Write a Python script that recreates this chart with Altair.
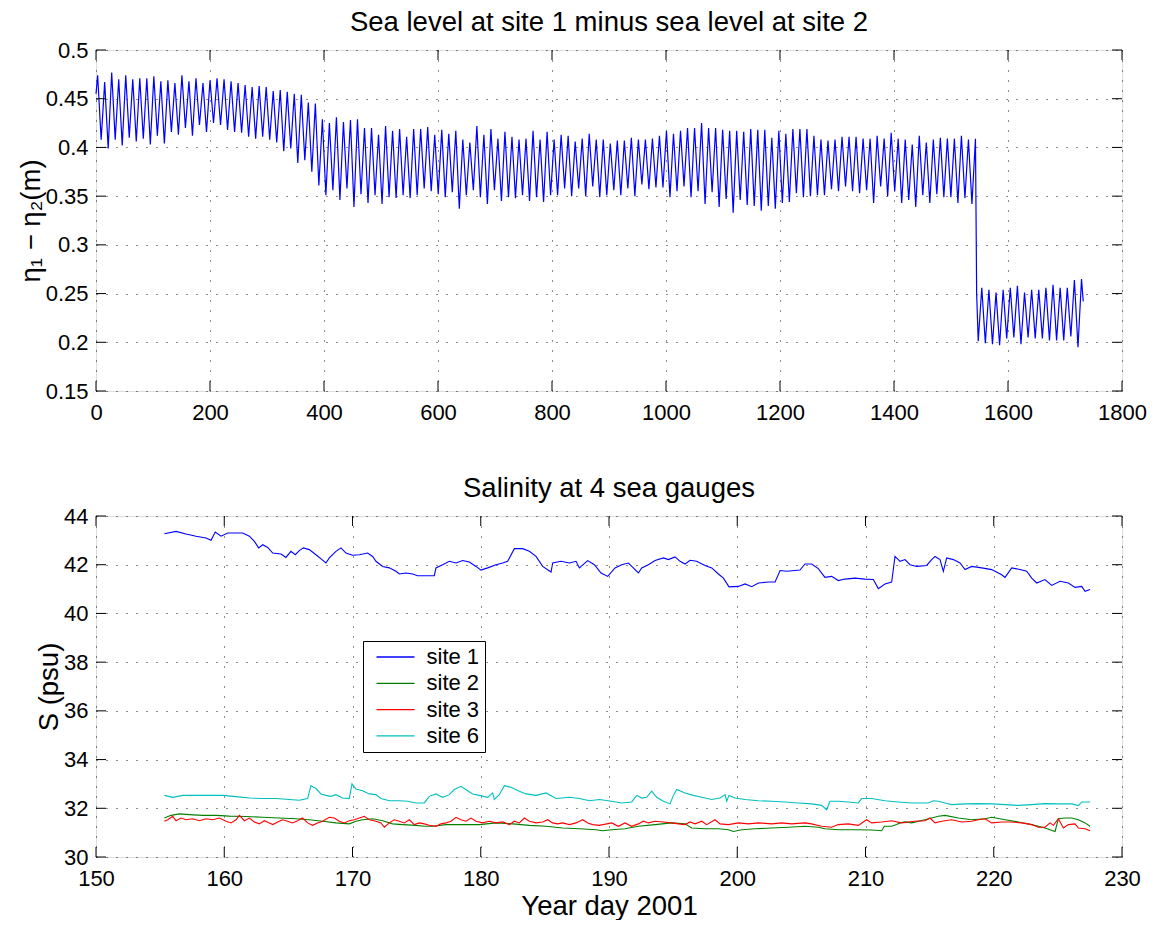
import altair as alt
import pandas as pd

FONT = "Liberation Sans"

# ---------------- top panel: tidal sea-level difference (m) ----------------
# successive high-water and low-water values, cycle by cycle
peaks_a = [0.474, 0.467, 0.477, 0.470, 0.474, 0.470, 0.471, 0.471, 0.473, 0.468,
           0.469, 0.466, 0.474, 0.468, 0.471, 0.466, 0.469, 0.471, 0.470, 0.468,
           0.466, 0.464, 0.462, 0.463, 0.462, 0.458, 0.459, 0.457, 0.455, 0.454,
           0.446, 0.445, 0.429, 0.425, 0.431, 0.426, 0.428]
troughs_a = [0.408, 0.399, 0.408, 0.402, 0.410, 0.406, 0.409, 0.403, 0.412, 0.404,
             0.416, 0.413, 0.420, 0.412, 0.423, 0.416, 0.425, 0.423, 0.418, 0.416,
             0.415, 0.411, 0.409, 0.411, 0.408, 0.405, 0.396, 0.399, 0.384, 0.387,
             0.375, 0.361, 0.351, 0.356, 0.346, 0.358, 0.339]
peaks_b = [0.429, 0.420, 0.420, 0.413, 0.422, 0.417, 0.419, 0.411, 0.419, 0.419,
           0.421, 0.413, 0.418, 0.414, 0.417, 0.408, 0.405, 0.422, 0.413, 0.419,
           0.409, 0.416, 0.411, 0.408, 0.409, 0.417, 0.408, 0.416, 0.408, 0.413,
           0.412, 0.406, 0.409, 0.414, 0.408, 0.408]
troughs_b = [0.352, 0.343, 0.351, 0.342, 0.349, 0.348, 0.351, 0.348, 0.351, 0.358,
             0.355, 0.352, 0.349, 0.354, 0.337, 0.351, 0.356, 0.349, 0.342, 0.356,
             0.345, 0.349, 0.348, 0.351, 0.345, 0.349, 0.344, 0.351, 0.351, 0.358,
             0.350, 0.358, 0.350, 0.360, 0.349, 0.351]
peaks_c = [0.404, 0.407, 0.407, 0.410, 0.408, 0.408, 0.409, 0.412, 0.417, 0.414,
           0.417, 0.420, 0.420, 0.425, 0.420, 0.420, 0.418, 0.417, 0.417, 0.416,
           0.419, 0.418, 0.418, 0.410, 0.417, 0.414, 0.419, 0.419, 0.419, 0.412,
           0.408, 0.407, 0.408, 0.411, 0.411, 0.411, 0.409]
troughs_c = [0.356, 0.351, 0.358, 0.350, 0.362, 0.357, 0.359, 0.359, 0.349, 0.355,
             0.360, 0.349, 0.355, 0.342, 0.354, 0.339, 0.347, 0.333, 0.346, 0.341,
             0.340, 0.335, 0.340, 0.337, 0.343, 0.344, 0.353, 0.349, 0.350, 0.351,
             0.351, 0.357, 0.355, 0.360, 0.355, 0.353, 0.356]
peaks_d = [0.409, 0.412, 0.409, 0.415, 0.409, 0.408, 0.403, 0.412, 0.405, 0.408,
           0.410, 0.409, 0.409, 0.412, 0.408, 0.409]
troughs_d = [0.343, 0.360, 0.350, 0.355, 0.343, 0.346, 0.339, 0.351, 0.343, 0.352,
             0.349, 0.349, 0.343, 0.348, 0.342]
# after the step down
troughs_e = [0.201, 0.199, 0.198, 0.197, 0.204, 0.205, 0.198, 0.205, 0.204, 0.204,
             0.202, 0.202, 0.202, 0.206, 0.195]
peaks_e = [0.256, 0.254, 0.251, 0.254, 0.256, 0.258, 0.251, 0.254, 0.254, 0.256,
           0.259, 0.256, 0.256, 0.264, 0.265]

start_hour, start_value = 0.0, 0.455
first_peak_hour, cycle_hours = 2.9, 12.32
step_hour, step_value = 1545.0, 0.250
post_first_peak_hour, post_cycle_hours = 1554.0, 12.5
end_hour, end_value = 1732.0, 0.242

top_x_ticks = [0, 200, 400, 600, 800, 1000, 1200, 1400, 1600, 1800]
top_y_ticks = [0.15, 0.2, 0.25, 0.3, 0.35, 0.4, 0.45, 0.5]

# ---------------- bottom panel: salinity (psu) ----------------
site1_day = [155.33, 156.24, 157.02, 157.80, 158.58, 158.97, 159.30, 159.75, 160.27, 160.92,
             161.44, 161.96, 162.35, 162.68, 163.00, 163.39, 163.78, 164.43, 164.81, 165.20,
             165.54, 165.85, 166.17, 166.63, 167.15, 167.62, 167.93, 168.19, 168.71, 169.10,
             169.49, 170.01, 170.53, 171.18, 171.57, 171.83, 172.35, 172.87, 173.39, 173.65,
             174.17, 174.69, 175.08, 175.73, 176.38, 176.51, 177.03, 177.55, 178.07, 178.59,
             179.11, 179.63, 180.02, 180.54, 181.19, 181.71, 182.10, 182.62, 183.27, 183.79,
             184.31, 184.83, 185.48, 185.61, 186.26, 186.91, 187.43, 187.69, 188.34, 188.86,
             189.38, 189.90,
             190.47, 190.99, 191.51, 191.90, 192.29, 192.55, 193.07, 193.59, 194.24, 194.63,
             195.15, 195.54, 195.93, 196.32, 196.84, 197.49, 198.01, 198.53, 198.92, 199.36,
             200.09, 200.61, 201.13, 201.65, 202.43, 202.95, 203.34, 203.86, 204.50, 204.89,
             205.28, 205.80, 206.32, 206.84, 207.36, 207.88, 208.40, 209.18, 209.96, 210.61,
             211.00, 211.52, 212.04, 212.30, 212.69, 213.08, 213.47, 213.99, 214.77, 215.16,
             215.42, 215.81, 216.07, 216.33, 216.85, 217.37, 217.76, 218.28, 219.06, 219.84,
             220.62, 220.88, 221.40, 222.05, 222.57, 222.96, 223.35, 223.99, 224.52, 225.17,
             225.82, 226.34, 226.86, 227.12, 227.51]
site1_s = [43.27, 43.37, 43.26, 43.17, 43.10, 43.00, 43.34, 43.17, 43.30, 43.30,
           43.30, 43.17, 42.96, 42.69, 42.82, 42.71, 42.48, 42.44, 42.30, 42.55,
           42.41, 42.58, 42.69, 42.62, 42.41, 42.21, 42.07, 42.28, 42.55, 42.69,
           42.48, 42.39, 42.41, 42.48, 42.34, 42.14, 41.93, 41.87, 41.73, 41.62,
           41.66, 41.62, 41.55, 41.55, 41.55, 41.87, 42.00, 42.14, 42.07, 42.17,
           42.11, 41.93, 41.78, 41.87, 42.00, 42.07, 42.14, 42.66, 42.66, 42.55,
           42.34, 41.93, 41.70, 42.07, 42.14, 42.07, 42.14, 41.87, 42.17, 42.00,
           41.66, 41.52,
           41.87, 42.00, 42.07, 41.87, 41.66, 41.87, 42.00, 42.17, 42.28, 42.21,
           42.32, 42.14, 42.03, 42.18, 42.14, 41.97, 41.87, 41.62, 41.45, 41.09,
           41.11, 41.21, 41.10, 41.25, 41.29, 41.29, 41.76, 41.73, 41.76, 41.78,
           42.03, 42.03, 41.84, 41.48, 41.52, 41.35, 41.41, 41.45, 41.41, 41.39,
           41.02, 41.21, 41.29, 42.34, 42.14, 42.21, 42.00, 41.93, 41.97, 42.21,
           42.34, 42.21, 41.73, 42.28, 42.21, 42.07, 41.80, 41.93, 41.87, 41.80,
           41.59, 41.48, 41.87, 41.80, 41.73, 41.45, 41.25, 41.39, 41.15, 41.32,
           41.25, 41.07, 41.11, 40.91, 40.98]

site2_day = [155.33, 155.85, 156.50, 157.28, 158.32, 159.36, 160.40, 161.70, 163.00, 164.30,
             165.59, 166.63, 167.67, 168.71, 169.75, 170.27, 170.79, 171.57, 172.35, 173.13,
             173.91, 174.95, 175.60, 176.25, 177.29, 178.59, 179.89, 181.19, 182.49, 183.79,
             185.09, 186.39, 187.69, 188.99, 189.51,
             190.21, 191.25, 192.29, 193.59, 194.89, 195.93, 196.45, 197.49, 198.53, 199.31,
             199.70, 200.35, 201.39, 202.69, 203.98, 205.28, 206.32, 206.84, 207.88, 209.18,
             210.48, 211.26, 211.47, 212.04, 212.43, 212.69, 213.08, 213.60, 214.64, 215.16,
             215.68, 216.20, 217.24, 218.28, 219.32, 219.84, 220.88, 221.92, 222.96, 223.99,
             224.78, 225.04, 225.56, 226.08, 226.60, 227.12, 227.51]
site2_s = [31.60, 31.71, 31.77, 31.74, 31.71, 31.71, 31.68, 31.66, 31.63, 31.60,
           31.57, 31.53, 31.47, 31.40, 31.36, 31.47, 31.53, 31.57, 31.49, 31.36,
           31.33, 31.30, 31.26, 31.26, 31.33, 31.33, 31.33, 31.40, 31.36, 31.30,
           31.26, 31.19, 31.16, 31.12, 31.08,
           31.12, 31.16, 31.26, 31.33, 31.40, 31.36, 31.19, 31.16, 31.16, 31.12,
           31.05, 31.12, 31.16, 31.19, 31.22, 31.26, 31.22, 31.16, 31.12, 31.12,
           31.11, 31.08, 31.26, 31.26, 31.33, 31.40, 31.44, 31.40, 31.53, 31.60,
           31.67, 31.71, 31.60, 31.53, 31.57, 31.63, 31.53, 31.44, 31.33, 31.19,
           31.05, 31.57, 31.60, 31.60, 31.53, 31.40, 31.26]

site3_day = [155.33, 155.59, 155.98, 156.24, 156.63, 157.02, 157.54, 158.06, 158.58, 159.10,
             159.62, 160.14, 160.53, 160.92, 161.18, 161.57, 161.96, 162.35, 162.74, 163.13,
             163.52, 163.78, 164.17, 164.55, 164.94, 165.33, 165.72, 166.11, 166.50, 166.89,
             167.28, 167.67, 168.19, 168.58, 168.97, 169.36, 169.75, 170.14, 170.53, 170.92,
             171.31, 171.83, 172.22, 172.48, 172.87, 173.26, 173.65, 174.04, 174.43, 174.82,
             175.21, 175.60, 175.99, 176.51, 176.90, 177.29, 177.68, 178.07, 178.46, 178.85,
             179.24, 179.63, 180.15, 180.67, 181.19, 181.71, 182.23, 182.62, 183.01, 183.40,
             183.79, 184.31, 184.83, 185.22, 185.61, 186.00, 186.39, 186.91, 187.43, 187.95,
             188.34, 188.73, 189.25,
             190.21, 190.73, 191.25, 191.77, 192.29, 192.68, 193.07, 193.59, 194.24, 194.89,
             195.41, 195.93, 196.32, 196.71, 197.23, 197.62, 198.27, 198.66, 199.31, 200.09,
             200.87, 201.65, 202.69, 203.47, 204.24, 205.28, 205.80, 206.58, 207.36, 207.88,
             208.66, 209.44, 210.09, 210.48, 211.26, 212.04, 212.82, 213.34, 213.86, 214.64,
             215.03, 215.42, 215.94, 216.72, 217.50, 218.28, 218.80, 219.32, 219.84, 220.62,
             221.40, 222.18, 222.96, 223.48, 223.99, 224.39, 224.65, 225.04, 225.43, 225.82,
             226.34, 226.60, 227.12, 227.51]
site3_s = [31.47, 31.53, 31.67, 31.49, 31.60, 31.53, 31.57, 31.49, 31.57, 31.53,
           31.60, 31.47, 31.40, 31.53, 31.71, 31.49, 31.60, 31.44, 31.36, 31.49,
           31.40, 31.33, 31.44, 31.53, 31.47, 31.40, 31.49, 31.60, 31.40, 31.30,
           31.40, 31.47, 31.63, 31.60, 31.47, 31.40, 31.49, 31.53, 31.60, 31.67,
           31.53, 31.47, 31.40, 31.22, 31.40, 31.53, 31.47, 31.40, 31.53, 31.33,
           31.40, 31.36, 31.30, 31.26, 31.36, 31.40, 31.47, 31.63, 31.53, 31.47,
           31.60, 31.47, 31.40, 31.47, 31.40, 31.44, 31.33, 31.47, 31.40, 31.60,
           31.47, 31.40, 31.44, 31.53, 31.40, 31.36, 31.40, 31.33, 31.40, 31.53,
           31.40, 31.33, 31.30,
           31.40, 31.26, 31.40, 31.26, 31.36, 31.47, 31.40, 31.47, 31.44, 31.40,
           31.36, 31.33, 31.44, 31.36, 31.47, 31.33, 31.53, 31.36, 31.33, 31.40,
           31.36, 31.40, 31.36, 31.40, 31.36, 31.40, 31.36, 31.26, 31.22, 31.33,
           31.36, 31.30, 31.53, 31.40, 31.44, 31.49, 31.40, 31.44, 31.47, 31.49,
           31.60, 31.40, 31.47, 31.53, 31.44, 31.47, 31.53, 31.57, 31.40, 31.44,
           31.44, 31.40, 31.33, 31.22, 31.22, 31.40, 31.30, 31.57, 31.19, 31.33,
           31.36, 31.19, 31.16, 31.08]

site6_day = [155.33, 155.98, 156.76, 157.80, 158.84, 159.88, 160.92, 161.96, 163.00, 164.04,
             165.07, 165.85, 166.50, 166.76, 167.15, 167.54, 167.93, 168.32, 168.71, 169.23,
             169.75, 169.96, 170.27, 170.79, 171.31, 171.83, 172.22, 172.87, 173.65, 174.30,
             174.95, 175.60, 175.99, 176.51, 177.03, 177.55, 177.94, 178.46, 178.98, 179.37,
             179.89, 180.54, 180.93, 181.06, 181.45, 181.84, 182.36, 183.01, 183.53, 184.31,
             185.09, 185.87, 186.91, 187.69, 188.47, 189.25,
             190.21, 190.99, 191.77, 192.16, 192.55, 192.94, 193.33, 193.72, 194.24, 194.76,
             195.02, 195.28, 195.93, 196.58, 197.23, 198.01, 198.66, 199.05, 199.18, 199.36,
             199.83, 200.61, 201.65, 202.69, 203.73, 204.76, 205.80, 206.58, 206.97, 207.23,
             207.88, 208.66, 209.44, 209.70, 210.48, 211.52, 212.56, 213.60, 214.90, 215.29,
             215.68, 216.20, 216.72, 217.76, 218.80, 219.84, 220.88, 221.92, 222.96, 223.99,
             225.04, 226.08, 226.60, 226.86, 227.51]
site6_s = [32.53, 32.45, 32.53, 32.53, 32.53, 32.53, 32.48, 32.42, 32.40, 32.40,
           32.36, 32.33, 32.40, 32.93, 32.81, 32.59, 32.53, 32.49, 32.56, 32.42,
           32.40, 33.00, 32.79, 32.72, 32.59, 32.56, 32.40, 32.31, 32.31, 32.29,
           32.22, 32.22, 32.49, 32.59, 32.45, 32.56, 32.77, 32.90, 32.72, 32.59,
           32.53, 32.45, 32.63, 32.36, 32.56, 32.93, 32.86, 32.70, 32.59, 32.53,
           32.63, 32.40, 32.45, 32.40, 32.31, 32.36,
           32.29, 32.22, 32.26, 32.53, 32.42, 32.45, 32.70, 32.45, 32.29, 32.18,
           32.53, 32.77, 32.63, 32.53, 32.45, 32.36, 32.42, 32.56, 32.29, 32.53,
           32.42, 32.36, 32.31, 32.29, 32.26, 32.22, 32.18, 32.12, 31.94, 32.29,
           32.29, 32.26, 32.22, 32.40, 32.40, 32.31, 32.26, 32.22, 32.22, 32.31,
           32.29, 32.22, 32.15, 32.18, 32.19, 32.18, 32.15, 32.12, 32.15, 32.19,
           32.18, 32.18, 32.11, 32.26, 32.26]

site_names = ["site 1", "site 2", "site 3", "site 6"]
site_colors = ["#0000ff", "#008000", "#ff0000", "#00bfbf"]
bot_x_ticks = [150, 160, 170, 180, 190, 200, 210, 220, 230]
bot_y_ticks = [30, 32, 34, 36, 38, 40, 42, 44]

# ---------------- build tables ----------------
pre_peaks = peaks_a + peaks_b + peaks_c + peaks_d
pre_troughs = troughs_a + troughs_b + troughs_c + troughs_d
hours, diffs = [start_hour], [start_value]
for i, p in enumerate(pre_peaks):
    t = first_peak_hour + i * cycle_hours
    hours.append(t)
    diffs.append(p)
    if i < len(pre_troughs):
        hours.append(t + cycle_hours / 2)
        diffs.append(pre_troughs[i])
hours.append(step_hour)
diffs.append(step_value)
for i, (lo, hi) in enumerate(zip(troughs_e, peaks_e)):
    t = post_first_peak_hour + i * post_cycle_hours
    hours += [t - post_cycle_hours / 2, t]
    diffs += [lo, hi]
hours.append(end_hour)
diffs.append(end_value)
top_df = pd.DataFrame({"hour": hours, "diff": diffs})

rows = []
for name, days, vals in [("site 1", site1_day, site1_s), ("site 2", site2_day, site2_s),
                         ("site 3", site3_day, site3_s), ("site 6", site6_day, site6_s)]:
    assert len(days) == len(vals), name
    rows += [{"day": d, "S": v, "site": name} for d, v in zip(days, vals)]
bot_df = pd.DataFrame(rows)

W, H = 1026, 341
TICK = 10
LABEL_SIZE = 22
TITLE_SIZE = 27.5

grid_kw = dict(grid=True, gridDash=[1, 9], gridColor="black", gridOpacity=0.9, gridWidth=1,
               domain=False, ticks=False, labelFlush=False, labelOverlap=False,
               labelFont=FONT, labelFontSize=LABEL_SIZE, labelColor="black",
               titleFont=FONT, titleFontSize=TITLE_SIZE, titleFontWeight="normal",
               titleColor="black")


def panel(df, xf, yf, xdom, ydom, xt, yt, xfmt, yfmt, xtitle, ytitle, title, line):
    xs = alt.Scale(domain=xdom, nice=False, zero=False)
    ys = alt.Scale(domain=ydom, nice=False, zero=False)
    xa = alt.Axis(values=xt, format=xfmt, labelPadding=11, title=xtitle, titlePadding=3, **grid_kw)
    ya = alt.Axis(values=yt, format=yfmt, labelPadding=8, title=ytitle, titlePadding=0, **grid_kw)
    X = alt.X(f"{xf}:Q", scale=xs, axis=xa)
    Y = alt.Y(f"{yf}:Q", scale=ys, axis=ya)
    xtd = pd.DataFrame({xf: xt})
    ytd = pd.DataFrame({yf: yt})
    tk = dict(color="black", strokeWidth=1)
    ticks = [
        alt.Chart(xtd).mark_rule(**tk).encode(x=X, y=alt.value(H), y2=alt.value(H - TICK)),
        alt.Chart(xtd).mark_rule(**tk).encode(x=X, y=alt.value(0), y2=alt.value(TICK)),
        alt.Chart(ytd).mark_rule(**tk).encode(y=Y, x=alt.value(0), x2=alt.value(TICK)),
        alt.Chart(ytd).mark_rule(**tk).encode(y=Y, x=alt.value(W), x2=alt.value(W - TICK)),
    ]
    main = line(alt.Chart(df), X, Y)
    return alt.layer(main, *ticks).properties(
        width=W, height=H,
        title=alt.TitleParams(title, font=FONT, fontSize=TITLE_SIZE, fontWeight="normal",
                              color="black", offset=3, anchor="middle"))


def top_line(c, X, Y):
    return c.mark_line(color="#0000ff", strokeWidth=1.2).encode(x=X, y=Y)


def bot_line(c, X, Y):
    return c.mark_line(strokeWidth=1.1).encode(
        x=X, y=Y, detail="site:N",
        color=alt.Color("site:N", scale=alt.Scale(domain=site_names, range=site_colors),
                        legend=alt.Legend(orient="none", legendX=267, legendY=125, title=None,
                                          strokeColor="black", fillColor="white", padding=5,
                                          symbolType="M-2,0L2,0", symbolSize=361,
                                          symbolOffset=16.5, symbolStrokeWidth=1.3,
                                          labelFont=FONT, labelFontSize=22, labelColor="black",
                                          labelOffset=20, rowPadding=4.3,
                                          labelExpr="datum.label + '\u00a0\u00a0'")))


top = panel(top_df, "hour", "diff", [0, 1800], [0.15, 0.5], top_x_ticks, top_y_ticks,
            "d", ".2~f", None, "η₁ − η₂(m)",
            "Sea level at site 1 minus sea level at site 2", top_line)
bot = panel(bot_df, "day", "S", [150, 230], [30, 44], bot_x_ticks, bot_y_ticks,
            "d", "d", "Year day 2001", "S (psu)", "Salinity at 4 sea gauges", bot_line)

chart = alt.vconcat(top, bot, spacing=50).resolve_scale(color="independent").resolve_legend(
    color="independent"
).properties(
    padding={"left": 16, "top": 8, "right": 5, "bottom": 0}
).configure_view(stroke="black", strokeWidth=1.2).configure(background="white")

chart.save("out.html", embed_options={"renderer": "svg", "actions": False})
